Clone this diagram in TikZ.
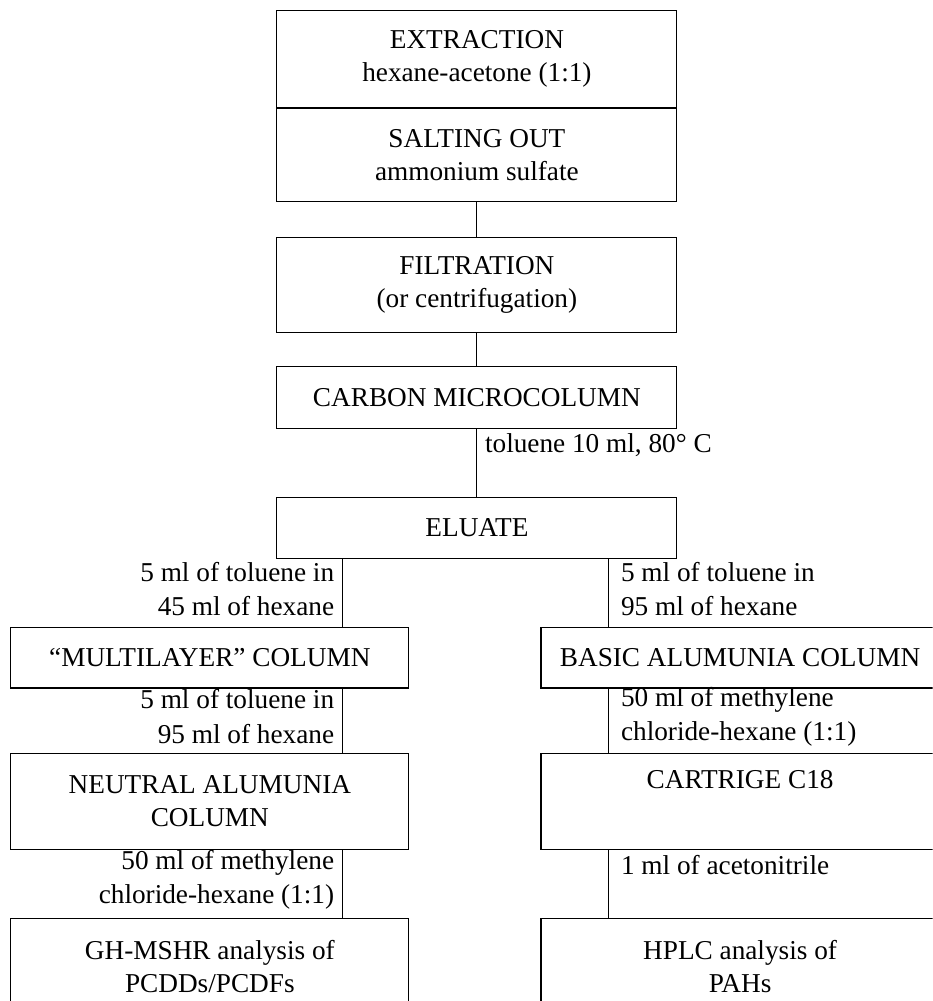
\documentclass[tikz,border=0pt]{standalone}
\usepackage{fontspec}
\setmainfont{Liberation Serif}
\usetikzlibrary{positioning, calc}
\tikzset{
  stage/.style  = {rectangle, draw, line width=0.5pt, minimum width=61.9mm,
                   inner sep=0pt, align=center,
                   font=\fontsize{12}{14.5}\selectfont},
  branch/.style = {stage, minimum width=61.6mm},
  link/.style   = {line width=0.5pt},
  lcond/.style  = {left, yshift=0.6mm, align=right,
                   font=\fontsize{12}{15.2}\selectfont},
  rcond/.style  = {right, xshift=2pt, yshift=0.6mm, align=left,
                   font=\fontsize{12}{15.2}\selectfont},
}
\begin{document}
\begin{tikzpicture}
  \useasboundingbox (0,0) rectangle (144.3mm,-154.9mm);
  \clip (0,0) rectangle (144.3mm,-154.9mm);

  % main column
  \node[stage, minimum height=15mm, anchor=north] (extr) at (73.8mm,-1.5mm)
    {EXTRACTION\\hexane-acetone (1:1)};
  \node[stage, minimum height=14.4mm, below=0mm of extr] (salt)
    {SALTING OUT\\ammonium sulfate};
  \node[stage, minimum height=14.7mm, below=5.4mm of salt] (filt)
    {FILTRATION\\(or centrifugation)};
  \node[stage, minimum height=9.6mm, below=5.1mm of filt] (carb) {CARBON MICROCOLUMN};
  \node[stage, minimum height=9.4mm, below=10.5mm of carb] (elu) {ELUATE};

  % two branches
  \node[branch, minimum height=9.4mm, anchor=north east] (multi)
    at ([xshift=20.6mm, yshift=-10.5mm]elu.south west) {“MULTILAYER” COLUMN};
  \node[branch, minimum height=9.4mm, anchor=north west] (basic)
    at ([xshift=-21.2mm, yshift=-10.5mm]elu.south east) {BASIC ALUMUNIA COLUMN};
  \node[branch, minimum height=14.9mm, below=9.9mm of multi] (neut)
    {NEUTRAL ALUMUNIA\\COLUMN};
  \node[branch, minimum height=14.9mm, below=9.9mm of basic] (cart)
    {CARTRIGE C18\\\strut};
  \node[branch, minimum height=14.9mm, below=10.5mm of neut] (gh)
    {GH-MSHR analysis of\\PCDDs/PCDFs};
  \node[branch, minimum height=14.9mm, below=10.5mm of cart] (hplc)
    {HPLC analysis of\\PAHs};

  \coordinate (lx) at ([xshift=-10.4mm]multi.north east);
  \coordinate (rx) at ([xshift=10.5mm]basic.north west);

  \draw[link] (salt) -- (filt);
  \draw[link] (filt) -- (carb);
  \draw[link] (carb) -- node[rcond, xshift=-2pt, yshift=2.2mm] {toluene 10 ml, 80° C} (elu);

  \draw[link] (elu.south -| lx) -- node[lcond] {5 ml of toluene in\\45 ml of hexane} (lx);
  \draw[link] (multi.south -| lx) -- node[lcond] {5 ml of toluene in\\95 ml of hexane} (neut.north -| lx);
  \draw[link] (neut.south -| lx) -- node[lcond] {50 ml of methylene\\chloride-hexane (1:1)} (gh.north -| lx);

  \draw[link] (elu.south -| rx) -- node[rcond] {5 ml of toluene in\\95 ml of hexane} (rx);
  \draw[link] (basic.south -| rx) -- node[rcond] {50 ml of methylene\\chloride-hexane (1:1)} (cart.north -| rx);
  \draw[link] (cart.south -| rx) -- node[rcond, yshift=2.3mm] {1 ml of acetonitrile} (hplc.north -| rx);
\end{tikzpicture}
\end{document}
